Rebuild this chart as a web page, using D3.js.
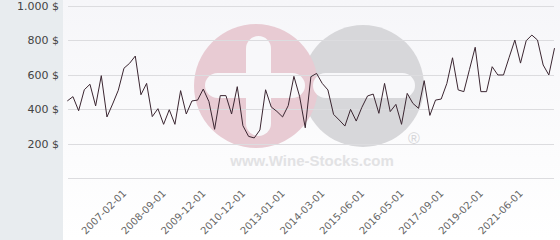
<!DOCTYPE html>
<html>
<head>
<meta charset="utf-8">
<script src="https://cdn.jsdelivr.net/npm/d3@7"></script>
<style>
  body { margin: 0; background: #fff; }
  svg { display: block; font-family: "DejaVu Sans", sans-serif; }
</style>
</head>
<body>
<div id="chart"></div>
<script>
// Price series (one point per category)
const prices = [
  448, 473, 391, 513, 545, 419, 595, 355, 430, 510,
  638, 667, 709, 484, 550, 357, 403, 312, 397, 312,
  508, 372, 448, 453, 517, 444, 283, 479, 479, 372,
  531, 304, 242, 233, 279, 513, 413, 387, 355, 421,
  591, 475, 292, 589, 608, 550, 512, 370, 337, 302,
  399, 331, 411, 477, 488, 376, 550, 386, 428, 312,
  492, 434, 405, 566, 364, 453, 459, 550, 699, 512,
  502, 632, 760, 502, 502, 647, 599, 599, 702, 802,
  668, 798, 831, 802, 657, 599, 755
];

// Category labels shown on the x axis, every 7th point starting at index 10
const tickLabels = [
  "2007-02-01", "2008-09-01", "2009-12-01", "2010-12-01", "2013-01-01",
  "2014-03-01", "2015-06-01", "2016-05-01", "2017-09-01", "2019-02-01",
  "2021-06-01"
];
const firstTick = 10;
const tickStep = 7;

const yTicks = [0, 200, 400, 600, 800, 1000];

const width = 560, height = 240;
const panelW = 63;

const svg = d3.select("#chart").append("svg")
  .attr("width", width)
  .attr("height", height);

const defs = svg.append("defs");
const grad = defs.append("linearGradient")
  .attr("id", "bg").attr("x1", 0).attr("y1", 0).attr("x2", 0).attr("y2", 1);
grad.append("stop").attr("offset", "0%").attr("stop-color", "#f6f6f9");
grad.append("stop").attr("offset", "100%").attr("stop-color", "#ffffff");

// backgrounds
svg.append("rect").attr("x", panelW).attr("y", 0)
  .attr("width", width - panelW).attr("height", height).attr("fill", "url(#bg)");
svg.append("rect").attr("x", 0).attr("y", 0)
  .attr("width", panelW).attr("height", height).attr("fill", "#e8ecef");

// scales
const x = d3.scaleLinear().domain([0, prices.length - 1]).range([67.3, 554.5]);
const y = d3.scaleLinear().domain([0, 1000]).range([178, 6]);

// watermark
const wm = svg.append("g");
wm.append("circle").attr("cx", 363).attr("cy", 86).attr("r", 61).attr("fill", "#d7d7da");
wm.append("circle").attr("cx", 256).attr("cy", 86).attr("r", 62).attr("fill", "#e8cbd3");
wm.append("rect").attr("x", 205).attr("y", 73).attr("width", 100).attr("height", 25)
  .attr("rx", 12.5).attr("fill", "#f8f8fa");
wm.append("rect").attr("x", 246).attr("y", 36).attr("width", 25).attr("height", 100)
  .attr("rx", 12.5).attr("fill", "#f8f8fa");
wm.append("rect").attr("x", 313).attr("y", 73).attr("width", 102).attr("height", 25)
  .attr("rx", 12.5).attr("fill", "#f8f8fa");
wm.append("text").attr("x", 312).attr("y", 166).attr("text-anchor", "middle")
  .attr("font-family", "Liberation Sans, Arial, sans-serif")
  .attr("font-weight", "bold").attr("font-size", 15).attr("fill", "#e2e2e4")
  .text("www.Wine-Stocks.com");
wm.append("text").attr("x", 414).attr("y", 144).attr("text-anchor", "middle")
  .attr("font-family", "Liberation Sans, Arial, sans-serif")
  .attr("font-size", 16).attr("fill", "#d6d6d9")
  .text("®");

// gridlines
svg.append("g").selectAll("line").data(yTicks).join("line")
  .attr("x1", 68).attr("x2", 554)
  .attr("y1", d => Math.round(y(d)) + 0.5).attr("y2", d => Math.round(y(d)) + 0.5)
  .attr("stroke", "#dcdcdf").attr("stroke-width", 1);

// y labels
const fmt = d3.formatLocale({ decimal: ",", thousands: ".", grouping: [3], currency: ["", " $"] }).format(",");
svg.append("g").selectAll("text").data(yTicks.filter(d => d > 0)).join("text")
  .attr("x", 59).attr("y", d => y(d) + 4)
  .attr("text-anchor", "end").attr("font-size", 11).attr("fill", "#444")
  .text(d => fmt(d) + " $");

// x labels
svg.append("g").selectAll("text").data(tickLabels).join("text")
  .attr("transform", (d, i) => `translate(${x(firstTick + i * tickStep) + 3},194) rotate(-45)`)
  .attr("text-anchor", "end").attr("font-size", 10).attr("fill", "#666")
  .text(d => d);

// price line
const line = d3.line().x((d, i) => x(i)).y(d => y(d));
svg.append("path").datum(prices)
  .attr("d", line)
  .attr("fill", "none")
  .attr("stroke", "#3b2631")
  .attr("stroke-width", 1)
  .attr("stroke-linejoin", "round");
</script>
</body>
</html>
